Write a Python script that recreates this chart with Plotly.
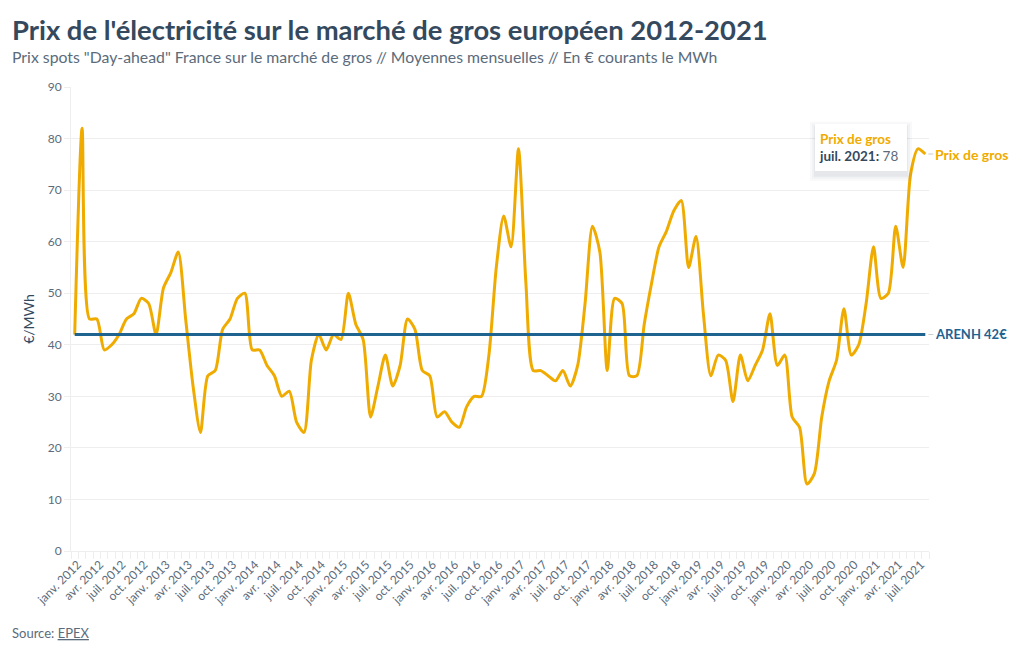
import plotly.graph_objects as go

# monthly labels, janv. 2012 -> aout 2021
mois = ['janv.','févr.','mars','avr.','mai','juin','juil.','août','sept.','oct.','nov.','déc.']
months = ['{:s} {:d}'.format(mois[i % 12], 2012 + i // 12) for i in range(116)]

prix_gros = [
    42,82,45,45,39,40,42,45,46,49,48,42,      # 2012
    51,54,58,45,32,23,34,35,43,45,49,50,      # 2013
    39,39,36,34,30,31,25,23,37,42,39,42,      # 2014
    41,50,44,41,26,32,38,32,36,45,43,35,      # 2015
    34,26,27,25,24,28,30,30,38,55,65,59,      # 2016
    78,52,35,35,34,33,35,32,36,48,63,58,      # 2017
    35,49,48,34,34,44,52,59,62,66,68,55,      # 2018
    61,46,34,38,37,29,38,33,36,39,46,36,      # 2019
    38,26,24,13,15,26,33,37,47,38,40,48,      # 2020
    59,49,50,63,55,73,78,77,                  # 2021
]
arenh = [42] * len(months)

FONT = 'Lato'
ORANGE = '#f0ab00'
BLUE = '#1f6391'
DARK = '#34495e'
GREY = '#5b6b7b'

xvals = list(range(len(months)))

fig = go.Figure()
fig.add_trace(go.Scatter(x=xvals, y=prix_gros, mode='lines', name='Prix de gros',
                         text=months, hovertemplate='<b>%{text}:</b> %{y}<extra>Prix de gros</extra>',
                         line=dict(color=ORANGE, width=3, shape='spline', smoothing=0.7)))
fig.add_trace(go.Scatter(x=xvals, y=arenh, mode='lines', name='ARENH 42€',
                         text=months, hovertemplate='<b>%{text}:</b> %{y}<extra>ARENH</extra>',
                         line=dict(color=BLUE, width=3)))

fig.update_xaxes(
    range=[-0.5, len(months) - 0.5],
    tickmode='array',
    tickvals=xvals[::3],
    ticktext=months[::3],
    tickangle=-45,
    tickfont=dict(size=12, color=GREY),
    ticks='', showgrid=False, zeroline=False,
    ticklabelshift=3, ticklabelstandoff=1,
    showline=True, linecolor='#eeeeee', linewidth=1,
    minor=dict(ticks='outside', tick0=-0.5, dtick=1, ticklen=7, tickcolor='#eeeeee', showgrid=False),
)
fig.update_yaxes(
    range=[0, 90], tick0=0, dtick=10,
    tickfont=dict(size=12, color=GREY),
    ticks='outside', ticklen=6, tickcolor='#eeeeee',
    gridcolor='#eeeeee', gridwidth=1, zeroline=False,
    showline=True, linecolor='#eeeeee', linewidth=1,
    title=dict(text='€/MWh', font=dict(size=14, color=DARK), standoff=9),
)

# end of line labels
fig.add_annotation(x=xvals[-1], y=prix_gros[-1], text='<b>Prix de gros</b>', font=dict(size=14, color=ORANGE),
                   xanchor='left', showarrow=True, arrowhead=0, arrowwidth=1, arrowcolor='#cccccc',
                   ax=8, ay=0, standoff=3)
fig.add_annotation(x=xvals[-1], y=arenh[-1], text='<b>ARENH 42€</b>', font=dict(size=13, color=BLUE),
                   xanchor='left', showarrow=True, arrowhead=0, arrowwidth=1, arrowcolor='#cccccc',
                   ax=8, ay=0, standoff=3)

# soft shadow behind the tooltip box
for grow, alpha in [(5, 0.03), (3, 0.04), (1, 0.06)]:
    fig.add_shape(type='rect', xsizemode='pixel', ysizemode='pixel',
                  xanchor=xvals[114], yanchor=prix_gros[114],
                  x0=-103 - grow, x1=-11 + grow, y0=25 + grow - 3, y1=-24 - grow - 3,
                  fillcolor='rgba(52,73,94,{:.2f})'.format(alpha), line_width=0, layer='above')

# the tooltip box
fig.add_annotation(x=xvals[114], y=prix_gros[114], xanchor='right', yanchor='top', xshift=-11, yshift=25,
                   width=84, height=39,
                   text='<b><span style="color:{:s}">Prix de gros</span></b><br><b>{:s}:</b> <span style="color:{:s}">{:d}</span>'.format(ORANGE, months[114], GREY, prix_gros[114]),
                   font=dict(size=13.5, color=DARK), align='left', showarrow=False,
                   bgcolor='white', borderwidth=0, borderpad=4)

# titles and source
fig.add_annotation(xref='paper', yref='paper', x=0, y=1, xanchor='left', yanchor='bottom', xshift=-61, yshift=39,
                   text="<b>Prix de l'électricité sur le marché de gros européen 2012-2021</b>",
                   font=dict(size=27.4, color=DARK), showarrow=False)
fig.add_annotation(xref='paper', yref='paper', x=0, y=1, xanchor='left', yanchor='bottom', xshift=-61, yshift=19,
                   text='Prix spots "Day-ahead" France sur le marché de gros // Moyennes mensuelles // En € courants le MWh',
                   font=dict(size=15.8, color=GREY), showarrow=False)
fig.add_annotation(xref='paper', yref='paper', x=0, y=0, xanchor='left', yanchor='top', xshift=-61, yshift=-72,
                   text='Source: <u>EPEX</u>', font=dict(size=13, color=GREY), showarrow=False)

fig.update_layout(
    width=1023, height=650,
    margin=dict(l=71, r=94, t=87, b=99),
    font=dict(family=FONT),
    paper_bgcolor='white', plot_bgcolor='white',
    showlegend=False,
)

fig.write_html("out.html", config=dict(displayModeBar=False), post_script="document.body.style.margin='0';")
